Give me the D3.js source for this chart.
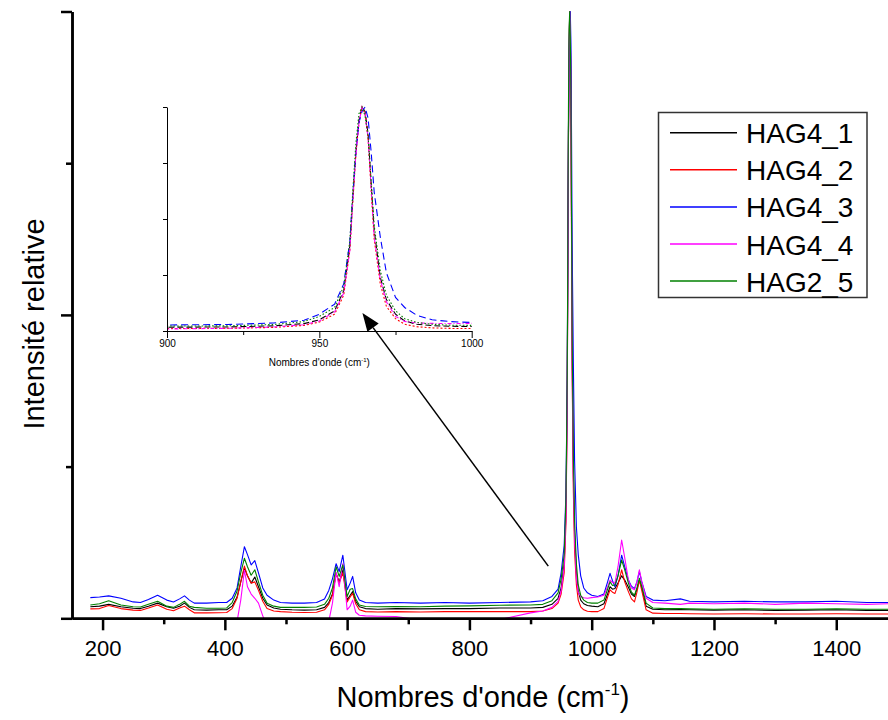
<!DOCTYPE html>
<html><head><meta charset="utf-8">
<script src="https://cdn.jsdelivr.net/npm/d3@7"></script>
<style>
body{margin:0;background:#fff}
svg{display:block}
text{font-family:"Liberation Sans",Arial,Helvetica,sans-serif;fill:#000}
</style>
</head><body>
<svg id="chart" width="888" height="720"></svg>
<script>
// ---------- DATA ----------
const wavenumbers = [
 180,195,210,230,250,262,275,290,305,316,
 326,334,342,350,370,390,403,412,420,426,
 432,437,443,449,455,462,469,480,491,510,
 530,550,563,570,576,582,587,593,600,605,
 609,614,620,630,650,680,720,760,800,850,
 900,920,935,945,950,955,958,960,961,962,
 963,964,965,966,967,968,970,972,975,978,
 982,987,993,1000,1010,1020,1026,1030,1034,1038,
 1043,1049,1054,1060,1065,1070,1074,1078,1082,1089,
 1100,1120,1145,1160,1200,1250,1300,1350,1400,1450,
 1490];

const hag4_1 = [
 1.9,2.0,2.3,1.9,1.65,1.6,2.0,2.5,1.9,1.65,
 2.0,2.5,1.8,1.4,1.35,1.4,1.4,2.0,3.5,6.0,
 8.3,7.0,5.8,6.8,5.2,3.3,2.2,1.7,1.5,1.4,
 1.35,1.4,1.8,2.6,4.0,7.4,6.0,8.0,3.0,3.8,
 4.4,2.8,1.9,1.6,1.5,1.6,1.55,1.6,1.6,1.7,
 1.7,1.8,2.3,3.3,5.0,9.0,18,38,60,80,
 94,100,98,88,66,45,24,14,7.5,4.5,
 3.0,2.4,2.1,2.0,1.9,2.4,4.0,5.2,4.8,4.9,
 5.8,7.0,6.3,5.1,4.0,3.6,4.8,6.3,5.0,2.0,
 1.5,1.4,1.45,1.4,1.35,1.4,1.3,1.35,1.4,1.3,
 1.3];

const hag4_2 = [
 1.55,1.6,2.1,1.6,1.35,1.3,1.7,2.2,1.5,1.25,
 1.7,2.0,1.4,0.9,0.9,0.92,0.95,1.6,3.3,6.0,
 8.6,7.0,5.8,6.0,4.6,2.8,1.6,1.2,1.1,1.0,
 0.95,1.0,1.4,2.3,3.8,7.4,5.8,7.5,2.7,3.5,
 4.1,2.4,1.4,1.1,1.05,1.1,1.05,1.1,1.1,1.1,
 1.1,1.2,1.6,2.5,4.0,7.5,16,36,58,79,
 93,100,97,86,63,41,21,11,5.5,3.0,
 1.9,1.4,1.15,1.1,1.1,1.6,3.5,4.7,4.3,4.1,
 5.5,8.0,6.0,4.4,3.2,2.7,4.3,6.3,4.5,1.4,
 0.85,0.8,0.8,0.75,0.7,0.75,0.7,0.7,0.75,0.7,
 0.7];

const hag4_3 = [
 3.4,3.5,3.7,3.3,2.7,2.6,3.1,3.8,3.0,2.7,
 3.2,3.7,3.0,2.5,2.5,2.6,2.6,3.3,5.0,8.5,
 11.8,10.5,8.8,9.5,7.5,5.0,3.8,3.0,2.6,2.5,
 2.5,2.6,3.2,4.6,6.5,9.0,7.7,10.4,4.7,5.8,
 6.9,4.2,3.0,2.6,2.5,2.6,2.5,2.6,2.5,2.6,
 2.7,2.9,3.6,4.8,7.5,12,21,40,61,80,
 93,98,100,95,80,62,42,26,15,10.5,
 7.0,5.0,4.2,3.8,3.6,4.0,6.0,7.4,6.2,5.2,
 7.0,10.4,8.5,6.3,5.3,4.9,6.0,7.7,6.0,3.6,
 3.0,2.9,3.2,2.8,2.7,2.8,2.7,2.7,2.8,2.6,
 2.6];

const hag4_4 = [
 -3.0,-3.0,-2.8,-3.0,-3.2,-3.2,-3.0,-2.8,-3.0,-3.1,
 -2.9,-2.6,-3.0,-3.2,-3.2,-3.1,-3.0,-2.0,-0.5,3.0,
 7.9,5.2,4.0,3.3,2.5,0.4,-1.2,-2.0,-2.2,-2.3,
 -2.2,-2.0,-1.5,-0.5,2.5,7.6,5.2,9.0,1.4,2.0,
 3.0,1.0,0.5,0.4,0.35,0.3,-0.3,-0.5,-0.4,-0.2,
 0.9,1.2,1.8,2.8,4.5,8.5,17,36,59,79,
 93,100,97,86,64,42,23,13,6.5,4.3,
 3.6,3.4,3.3,3.4,3.5,3.8,5.2,6.3,5.9,5.8,
 8.5,12.9,10.0,6.3,5.0,4.7,6.0,8.0,6.0,3.3,
 2.6,2.5,2.3,2.5,2.4,2.5,2.3,2.5,2.4,2.3,
 2.4];

const hag2_5 = [
 2.2,2.4,2.9,2.2,1.9,1.85,2.3,2.8,2.0,1.8,
 2.3,2.8,2.0,1.8,1.65,1.65,1.7,2.6,4.5,7.5,
 9.9,8.5,7.1,8.0,6.0,3.8,2.5,2.0,1.8,1.8,
 1.8,1.85,2.3,3.3,5.0,8.5,6.9,8.8,3.6,4.8,
 4.9,3.2,2.2,1.95,1.9,1.95,1.9,2.0,2.05,2.15,
 2.2,2.3,2.9,4.2,6.5,10.5,20,40,63,84,
 97,100,96,87,67,47,27,16,9.0,5.5,
 3.8,3.0,2.6,2.5,2.5,3.0,4.8,6.0,5.4,5.5,
 7.0,9.6,8.0,5.8,4.3,3.8,5.0,6.6,5.2,2.5,
 1.7,1.6,1.6,1.55,1.5,1.55,1.5,1.5,1.55,1.5,
 1.5];

const seriesNames = ["HAG4_1","HAG4_2","HAG4_3","HAG4_4","HAG2_5"];
const seriesValues = [hag4_1, hag4_2, hag4_3, hag4_4, hag2_5];
const seriesColors = ["#000000","#ff0000","#0000ff","#ff00ff","#008000"];
const insetDashes = ["6,3","2,2","7,4","4,2,1,2","1.5,2"];

const xMajorTicks = [200,400,600,800,1000,1200,1400];
const xMinorTicks = [300,500,700,900,1100,1300,1500];
const yMajorTicks = [0,50,100];
const yMinorTicks = [25,75];
const insetXMajor = [900,950,1000];
const insetXMinor = [925,975];
const insetYTicks = [0,25,50,75,100];
// arrow annotation: from a point near the main peak base to the inset
const arrowFrom = [929, 8.6];
const arrowTo = [625, 50.3];

// ---------- LAYOUT ----------
const svg = d3.select("#chart");
const x = d3.scaleLinear().domain([150,1500]).range([72, 897.4]);
const y = d3.scaleLinear().domain([0,100]).range([618.3, 11.5]);

const xi = d3.scaleLinear().domain([900,1000]).range([167, 471.7]);
const yi = d3.scaleLinear().domain([0,100]).range([331, 107]);
const fmt = d3.format("d");

const defs = svg.append("defs");
defs.append("clipPath").attr("id","mainClip").append("rect")
  .attr("x", x(150)).attr("y", 0).attr("width", 888 - x(150)).attr("height", y(0));
defs.append("clipPath").attr("id","insetClip").append("rect")
  .attr("x", xi(900)).attr("y", yi(100)-3).attr("width", xi(1000)-xi(900)).attr("height", yi(0)-yi(100)+3);

const data = seriesValues.map((vals,i)=>({name:seriesNames[i], color:seriesColors[i], dash:insetDashes[i],
  pts: wavenumbers.map((w,j)=>[w, vals[j]])}));

// main lines
const line = d3.line().x(d=>x(d[0])).y(d=>y(d[1]));
svg.append("g").attr("clip-path","url(#mainClip)")
  .selectAll("path").data(data).join("path")
  .attr("d", d=>line(d.pts))
  .attr("fill","none").attr("stroke", d=>d.color).attr("stroke-width",1.1)
  .attr("stroke-linejoin","round");

// main axes
function styleAxis(g, w){
  g.selectAll("path.domain").attr("stroke","#000").attr("stroke-width",w);
  g.selectAll(".tick line").attr("stroke","#000").attr("stroke-width",w);
}
const gxMinor = svg.append("g").attr("transform",`translate(0,${y(0)})`)
  .call(d3.axisBottom(x).tickValues(xMinorTicks).tickSize(6).tickSizeOuter(0).tickFormat(""));
styleAxis(gxMinor, 2.5);
const gx = svg.append("g").attr("transform",`translate(0,${y(0)})`)
  .call(d3.axisBottom(x).tickValues(xMajorTicks).tickSize(12).tickSizeOuter(0).tickPadding(10).tickFormat(fmt));
styleAxis(gx, 2.5);
gx.selectAll(".tick text").attr("font-size",22).attr("font-family","Liberation Sans, Arial, sans-serif").attr("fill","#000");

const gyMinor = svg.append("g").attr("transform",`translate(${x(150)},0)`)
  .call(d3.axisLeft(y).tickValues(yMinorTicks).tickSize(6).tickSizeOuter(0).tickFormat(""));
styleAxis(gyMinor, 2.5);
const gy = svg.append("g").attr("transform",`translate(${x(150)},0)`)
  .call(d3.axisLeft(y).tickValues(yMajorTicks).tickSize(11).tickSizeOuter(0).tickFormat(""));
styleAxis(gy, 2.5);

// axis titles
const xt = svg.append("text").attr("x", 483).attr("y", 707).attr("text-anchor","middle").attr("font-size",29);
xt.append("tspan").text("Nombres d'onde (cm");
xt.append("tspan").attr("dy",-12).attr("font-size",17).text("-1");
xt.append("tspan").attr("dy",12).text(")");

svg.append("text").attr("transform","translate(44,324) rotate(-90)")
  .attr("text-anchor","middle").attr("font-size",29).text("Intensité relative");

// ---------- INSET ----------
const iline = d3.line().x(d=>xi(d[0])).y(d=>yi(d[1]));
svg.append("g").attr("clip-path","url(#insetClip)")
  .selectAll("path").data(data).join("path")
  .attr("d", d=>iline(d.pts))
  .attr("fill","none").attr("stroke", d=>d.color).attr("stroke-width",1.1)
  .attr("stroke-dasharray", d=>d.dash);

const gix2 = svg.append("g").attr("transform",`translate(0,${yi(0)})`)
  .call(d3.axisBottom(xi).tickValues(insetXMinor).tickSize(4).tickSizeOuter(0).tickFormat(""));
styleAxis(gix2, 1);
const gix = svg.append("g").attr("transform",`translate(0,${yi(0)})`)
  .call(d3.axisBottom(xi).tickValues(insetXMajor).tickSize(7).tickSizeOuter(0).tickPadding(2).tickFormat(fmt));
styleAxis(gix, 1);
gix.selectAll(".tick text").attr("font-size",10).attr("font-family","Liberation Sans, Arial, sans-serif").attr("fill","#000");
const giy = svg.append("g").attr("transform",`translate(${xi(900)},0)`)
  .call(d3.axisLeft(yi).tickValues(insetYTicks).tickSize(4).tickSizeOuter(0).tickFormat(""));
styleAxis(giy, 1);

const it = svg.append("text").attr("x", (xi(900)+xi(1000))/2).attr("y", 366).attr("text-anchor","middle").attr("font-size",10);
it.append("tspan").text("Nombres d'onde (cm");
it.append("tspan").attr("dy",-4).attr("font-size",6).text("-1");
it.append("tspan").attr("dy",4).text(")");

// ---------- ARROW ----------
const ax0 = x(arrowFrom[0]), ay0 = y(arrowFrom[1]);
const ax1 = x(arrowTo[0]), ay1 = y(arrowTo[1]);
const ang = Math.atan2(ay1-ay0, ax1-ax0);
const headL = 18, headW = 7;
const bx = ax1 - headL*Math.cos(ang), by = ay1 - headL*Math.sin(ang);
svg.append("line").attr("x1",ax0).attr("y1",ay0).attr("x2",bx).attr("y2",by)
  .attr("stroke","#000").attr("stroke-width",1.5);
svg.append("path").attr("d", d3.line()([
  [ax1, ay1],
  [bx + headW*Math.sin(ang), by - headW*Math.cos(ang)],
  [bx - headW*Math.sin(ang), by + headW*Math.cos(ang)]
]) + "Z").attr("fill","#000");

// ---------- LEGEND ----------
const lg = svg.append("g");
lg.append("rect").attr("x",658.5).attr("y",112.5).attr("width",208.5).attr("height",185)
  .attr("fill","#fff").attr("stroke","#333").attr("stroke-width",1.5);
const items = lg.selectAll("g.item").data(data).join("g").attr("class","item")
  .attr("transform",(d,i)=>`translate(0,${132.7 + i*37.1})`);
items.append("line").attr("x1",670).attr("x2",737).attr("y1",0).attr("y2",0)
  .attr("stroke",d=>d.color).attr("stroke-width",1.5);
items.append("text").attr("x",746).attr("y",10.5).attr("font-size",28).text(d=>d.name);
</script>
</body></html>
